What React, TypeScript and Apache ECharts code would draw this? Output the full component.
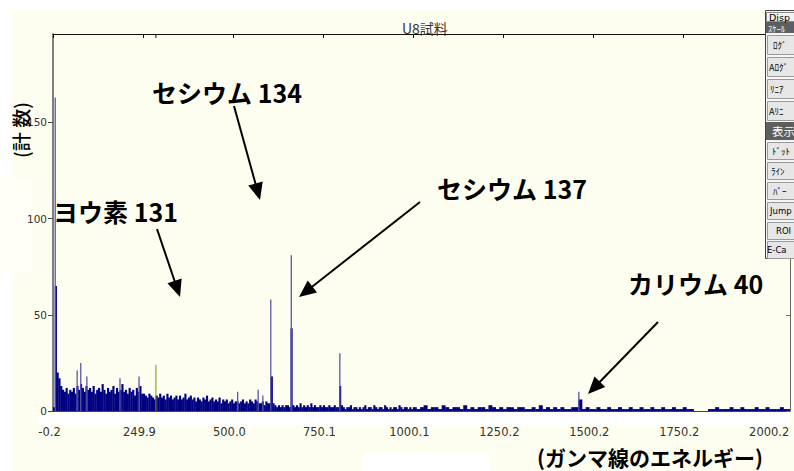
import React, { useEffect, useRef } from "react";
import * as echarts from "echarts";

// ---------- data ----------
const xTickLabels = ["-0.2", "249.9", "500.0", "750.1", "1000.1", "1250.2", "1500.2", "1750.2", "2000.2"];
const yTickValues = [0, 50, 100, 150];

// counts per 5 keV bin from 0 to 1000 keV
const fineBinStart = 0;
const fineBinWidth = 5;
const fineCounts = [
  2, 65, 20, 17, 13, 11, 10, 12, 9, 11,
  10, 12, 9, 13, 11, 14, 12, 10, 13, 11,
  12, 10, 13, 9, 11, 12, 10, 14, 11, 9,
  12, 10, 11, 13, 9, 12, 10, 11, 14, 10,
  11, 9, 12, 10, 11, 8, 12, 10, 13, 9,
  9, 8, 7, 9, 8, 7, 6, 8, 7, 9,
  7, 8, 6, 9, 7, 8, 6, 7, 8, 6,
  8, 6, 7, 9, 6, 7, 8, 6, 7, 5,
  7, 6, 5, 7, 6, 8, 5, 6, 7, 5,
  6, 5, 7, 4, 6, 5, 6, 4, 5, 6,
  4, 5, 5, 4, 5, 6, 4, 5, 4, 6,
  5, 4, 6, 5, 4, 4, 5, 3, 5, 4,
  4, 18, 4, 3, 2, 3, 2, 3, 2, 3,
  3, 2, 43, 3, 2, 3, 2, 4, 2, 3,
  2, 3, 2, 4, 2, 3, 2, 2, 3, 2,
  3, 2, 2, 3, 2, 2, 3, 2, 2, 13,
  3, 2, 1, 2, 2, 3, 1, 2, 2, 1,
  2, 1, 2, 3, 1, 2, 2, 1, 3, 2,
  1, 2, 2, 1, 3, 2, 1, 2, 1, 2,
  2, 1, 3, 2, 1, 2, 2, 1, 2, 1,
];

// counts per 10 keV bin from 1000 to 2050 keV
const coarseBinStart = 1000;
const coarseBinWidth = 10;
const coarseCounts = [
  2, 1, 2, 3, 1, 2, 2, 1, 3, 2,
  1, 2, 2, 1, 3, 1, 2, 1, 2, 2,
  1, 3, 2, 1, 2, 1, 2, 2, 1, 2,
  2, 1, 1, 2, 1, 3, 1, 2, 1, 2,
  1, 2, 1, 1, 2, 2, 6, 1, 2, 1,
  1, 2, 1, 1, 2, 1, 1, 2, 1, 1,
  2, 1, 1, 2, 1, 1, 2, 1, 1, 2,
  1, 1, 2, 1, 1, 2, 1, 1, 0, 0,
  0, 0, 1, 1, 2, 1, 1, 1, 2, 1,
  1, 2, 1, 1, 1, 2, 1, 1, 2, 1,
  1, 1, 2, 1, 1,
];

// narrow single-channel spikes
const spikeEnergies = [6, 67, 77, 94, 186, 239, 513, 570, 583, 605, 662, 797, 1461];
const spikeCounts = [163, 21, 25, 18, 17, 18, 10, 11, 8, 58, 81, 30, 10];

// cursor marker
const cursorEnergy = [286];
const cursorCount = [24];

const xMin = 0;
const xMax = 2048;
const xInterval = 250;
const yMin = 0;
const yMax = 196;
const yInterval = 50;

// ---------- helpers ----------
const JP = '"Noto Sans CJK JP", "Noto Sans", sans-serif';
const CREAM = "#fefef0";
const NAVY = "#000080";

function arrow(x1: number, y1: number, x2: number, y2: number) {
  const dx = x2 - x1, dy = y2 - y1;
  const L = Math.hypot(dx, dy);
  const ux = dx / L, uy = dy / L;
  const hl = 17, hw = 7.5;
  const bx = x2 - ux * hl, by = y2 - uy * hl;
  return [
    { type: "line", z: 100, silent: true, shape: { x1, y1, x2: bx + ux * 2, y2: by + uy * 2 }, style: { stroke: "#000", lineWidth: 2 } },
    {
      type: "polygon", z: 100, silent: true,
      shape: { points: [[x2, y2], [bx - uy * hw, by + ux * hw], [bx + uy * hw, by - ux * hw]] },
      style: { fill: "#000" },
    },
  ];
}

function txt(x: number, y: number, text: string, size: number, opts: any = {}) {
  return {
    type: "text", z: opts.z ?? 100, silent: true, x, y, rotation: opts.rotation ?? 0,
    style: {
      text, fill: opts.fill ?? "#000", fontSize: size, fontWeight: opts.weight ?? "bold",
      fontFamily: opts.family ?? JP,
      textAlign: opts.align ?? "left", align: opts.align ?? "left",
      textVerticalAlign: "middle", verticalAlign: "middle",
    },
  };
}

function rect(x: number, y: number, w: number, h: number, fill: string, stroke?: string, z = -10) {
  return {
    type: "rect", z, silent: true, shape: { x, y, width: w, height: h },
    style: stroke ? { fill, stroke, lineWidth: 1 } : { fill },
  };
}

function buildPanel() {
  const els: any[] = [];
  const Z = 200;
  els.push(rect(765.5, 10.5, 40, 248, "#f6f6f6", "#444", Z));
  els.push(rect(766.5, 12.5, 40, 9, "#f2f2f2", "#888", Z));
  els.push(txt(769, 17, "Disp", 9.5, { weight: "normal", family: "DejaVu Sans", z: Z + 1 }));
  els.push(rect(766, 22, 40, 11, "#5e5e5e", undefined, Z));
  els.push(txt(768, 27.5, "ｽｹｰﾙ", 8.5, { weight: "normal", fill: "#fff", z: Z + 1 }));
  const b1 = [
    { y: 35, t: "ﾛｸﾞ", x: 773 },
    { y: 57, t: "Aﾛｸﾞ", x: 769 },
    { y: 79, t: "ﾘﾆｱ", x: 770 },
    { y: 101, t: "Aﾘﾆ", x: 769 },
  ];
  b1.forEach((b) => {
    els.push(rect(767.5, b.y + 0.5, 40, 19, "#e6e6e6", "#9a9a9a", Z));
    els.push(txt(b.x, b.y + 10, b.t, 9, { weight: "normal", z: Z + 1 }));
  });
  els.push(rect(766, 122, 40, 18, "#5e5e5e", undefined, Z));
  els.push(txt(772, 131, "表示", 11.5, { weight: "normal", fill: "#fff", z: Z + 1 }));
  const b2 = [
    { y: 142, t: "ﾄﾞｯﾄ", x: 772 },
    { y: 162, t: "ﾗｲﾝ", x: 771 },
    { y: 182, t: "ﾊﾞｰ", x: 773 },
    { y: 202, t: "Jump", x: 770, f: "DejaVu Sans" },
    { y: 222, t: "ROI", x: 776, f: "DejaVu Sans" },
    { y: 241, t: "E-Ca", x: 767, f: "DejaVu Sans" },
  ];
  b2.forEach((b: any) => {
    els.push(rect(767.5, b.y + 0.5, 40, 17, "#e6e6e6", "#9a9a9a", Z));
    els.push(txt(b.x, b.y + 9, b.t, b.f ? 8.5 : 9, { weight: "normal", family: b.f ?? JP, z: Z + 1 }));
  });
  return els;
}

export default function App() {
  const ref = useRef<HTMLDivElement>(null);

  useEffect(() => {
    if (!ref.current) return;
    const chart = echarts.init(ref.current, null, { renderer: "svg" });

    const bins: number[][] = [];
    fineCounts.forEach((c, i) => bins.push([fineBinStart + i * fineBinWidth, fineBinStart + (i + 1) * fineBinWidth, c]));
    coarseCounts.forEach((c, i) => bins.push([coarseBinStart + i * coarseBinWidth, coarseBinStart + (i + 1) * coarseBinWidth, c]));
    const spikes = spikeEnergies.map((e, i) => [e, spikeCounts[i]]);
    const cursor = cursorEnergy.map((e, i) => [e, cursorCount[i]]);

    const graphic: any[] = [
      rect(12, 10, 782, 461, CREAM),
      rect(0, 178, 33, 95, "#fffff7"),
      rect(38, 413, 752, 12, "#ffffff"),
      rect(363, 453, 127, 18, "#ffffff"),
      txt(20, 130, "(計 数)", 19, { rotation: Math.PI / 2, align: "center", weight: 500 }),
      txt(152, 92, "セシウム 134", 25),
      txt(53, 211, "ヨウ素 131", 25),
      txt(437, 188, "セシウム 137", 25),
      txt(628, 283, "カリウム 40", 25),
      txt(537, 457, "(ガンマ線のエネルギー)", 21),
      ...arrow(234, 106, 260, 200),
      ...arrow(157, 229, 180, 297),
      ...arrow(420, 202, 299, 297),
      ...arrow(658, 322, 588, 394),
      ...buildPanel(),
    ];

    const xFormatter = (v: number) => {
      const i = Math.round(v / xInterval);
      return Math.abs(v - i * xInterval) < 1e-6 && xTickLabels[i] !== undefined ? xTickLabels[i] : "";
    };
    const yFormatter = (v: number) => (yTickValues.includes(v) ? String(v) : "");

    const option: any = {
      animation: false,
      backgroundColor: "transparent",
      title: {
        text: "U8試料",
        left: 397,
        top: 16,
        textStyle: { fontSize: 14, fontWeight: "normal", color: "#333", fontFamily: JP },
      },
      grid: { left: 53, right: 4, top: 34, bottom: 60, containLabel: false },
      xAxis: [
        {
          type: "value", position: "bottom", min: xMin, max: xMax, interval: xInterval,
          axisLine: { show: true, onZero: false, lineStyle: { color: "#444", width: 1 } },
          axisTick: { show: false },
          splitLine: { show: false },
          axisLabel: {
            formatter: xFormatter, showMaxLabel: false, fontSize: 11.5, color: "#333",
            fontFamily: "DejaVu Sans", margin: 15, padding: [0, 7, 0, 0],
          },
        },
        {
          type: "value", position: "top", min: xMin, max: xMax, interval: xInterval,
          axisLine: { show: true, onZero: false, lineStyle: { color: "#111", width: 1 } },
          axisTick: { show: true, inside: true, length: 4, lineStyle: { color: "#111" } },
          splitLine: { show: false },
          axisLabel: { show: false },
        },
      ],
      yAxis: [
        {
          type: "value", position: "left", min: yMin, max: yMax, interval: yInterval,
          axisLine: { show: true, onZero: false, lineStyle: { color: "#808080", width: 2 } },
          axisTick: { show: true, length: 5, lineStyle: { color: "#444" } },
          splitLine: { show: false },
          axisLabel: { formatter: yFormatter, showMaxLabel: false, fontSize: 10.5, color: "#333", fontFamily: "DejaVu Sans", margin: 6 },
        },
        {
          type: "value", position: "right", min: yMin, max: yMax, interval: yInterval,
          axisLine: { show: true, onZero: false, lineStyle: { color: "#666", width: 1 } },
          axisTick: { show: true, inside: true, length: 4, lineStyle: { color: "#666" } },
          splitLine: { show: false },
          axisLabel: { show: false },
        },
      ],
      graphic,
      series: [
        {
          type: "custom", name: "continuum", xAxisIndex: 0, yAxisIndex: 0, clip: true, silent: true,
          encode: { x: [0, 1], y: 2 },
          data: bins,
          renderItem: (params: any, api: any) => {
            const a = api.coord([api.value(0), api.value(2)]);
            const b = api.coord([api.value(1), 0]);
            return {
              type: "rect",
              shape: { x: a[0], y: a[1], width: b[0] - a[0] + 0.35, height: b[1] - a[1] },
              style: { fill: NAVY },
            };
          },
        },
        {
          type: "custom", name: "spikes", xAxisIndex: 0, yAxisIndex: 0, clip: true, silent: true,
          encode: { x: 0, y: 1 },
          data: spikes,
          z: 3,
          renderItem: (params: any, api: any) => {
            const a = api.coord([api.value(0), api.value(1)]);
            const b = api.coord([api.value(0), 0]);
            return {
              type: "rect",
              shape: { x: a[0] - 0.6, y: a[1], width: 1.3, height: b[1] - a[1] },
              style: { fill: "#5858a4" },
            };
          },
        },
        {
          type: "custom", name: "cursor", xAxisIndex: 0, yAxisIndex: 0, clip: true, silent: true,
          encode: { x: 0, y: 1 },
          data: cursor,
          z: 4,
          renderItem: (params: any, api: any) => {
            const a = api.coord([api.value(0), api.value(1)]);
            const b = api.coord([api.value(0), 0]);
            const t = api.coord([api.value(0), yMax]);
            return {
              type: "group",
              children: [
                { type: "rect", shape: { x: a[0] - 0.5, y: a[1], width: 1, height: b[1] - a[1] }, style: { fill: "#8a8a10" } },
                { type: "rect", shape: { x: t[0] - 0.5, y: t[1], width: 1, height: 4 }, style: { fill: "#111" } },
              ],
            };
          },
        },
      ],
    };

    chart.setOption(option);
    return () => chart.dispose();
  }, []);

  return (
    <div
      ref={ref}
      style={{ position: "absolute", left: 0, top: 0, width: 794, height: 471, background: "#ffffff" }}
    />
  );
}
